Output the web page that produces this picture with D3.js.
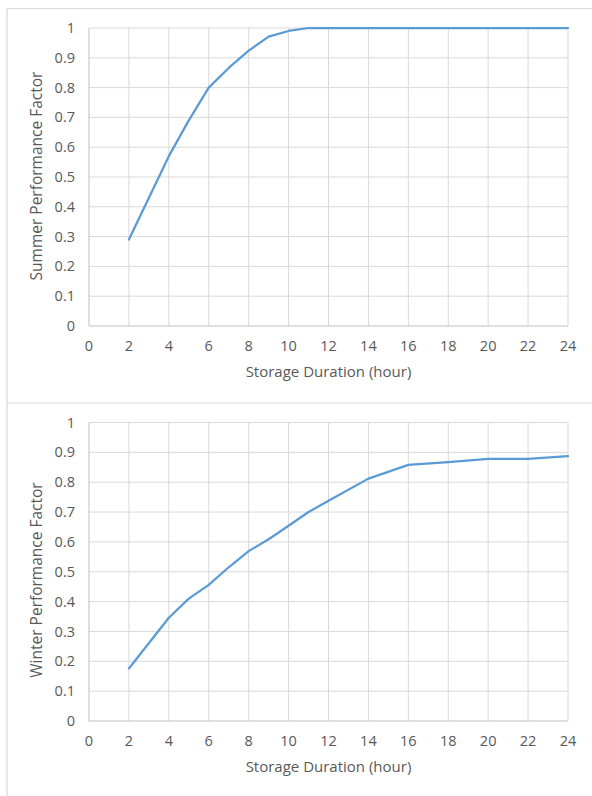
<!DOCTYPE html>
<html><head><meta charset="utf-8">
<script src="https://cdn.jsdelivr.net/npm/d3@7"></script>
<style>body{margin:0;background:#fff}svg{display:block}text{font-family:"Open Sans",sans-serif;fill:#595959}</style>
</head><body>
<script>
const hours = [2,4,5,6,7,8,9,10,11,12,14,16,18,20,22,24];
const summer = [0.29,0.57,0.69,0.80,0.866,0.924,0.971,0.99,1,1,1,1,1,1,1,1];
const winter = [0.176,0.346,0.41,0.456,0.515,0.569,0.609,0.654,0.70,0.738,0.812,0.858,0.867,0.878,0.878,0.887];
const xTicks = [0,2,4,6,8,10,12,14,16,18,20,22,24];
const yTicks = [0,0.1,0.2,0.3,0.4,0.5,0.6,0.7,0.8,0.9,1];
const xTitle = "Storage Duration (hour)";
const panels = [
  {title:"Summer Performance Factor", values:summer, top:8.5, bottom:403, plotTop:28, plotBottom:326, titleY:176},
  {title:"Winter Performance Factor", values:winter, top:403, bottom:800, plotTop:422.5, plotBottom:721, titleY:580}
];
const W=592,H=796;
const svg=d3.select("body").append("svg").attr("width",W).attr("height",H);
const x=d3.scaleLinear().domain([0,24]).range([89,568]);
panels.forEach(p=>{
  const g=svg.append("g");
  g.append("line").attr("x1",7).attr("x2",W).attr("y1",p.top).attr("y2",p.top).attr("stroke","#d9d9d9").attr("stroke-width",1.2);
  g.append("line").attr("x1",7).attr("x2",7).attr("y1",p.top).attr("y2",p.bottom).attr("stroke","#d9d9d9").attr("stroke-width",1.2);
  const y=d3.scaleLinear().domain([0,1]).range([p.plotBottom,p.plotTop]);
  g.append("g").selectAll("line").data(yTicks.slice(1)).join("line")
    .attr("x1",x(0)).attr("x2",x(24)).attr("y1",d=>y(d)).attr("y2",d=>y(d))
    .attr("stroke","#d9d9d9").attr("stroke-width",1);
  g.append("g").selectAll("line").data(xTicks.slice(1)).join("line")
    .attr("x1",d=>x(d)).attr("x2",d=>x(d)).attr("y1",y(0)).attr("y2",y(1))
    .attr("stroke","#d9d9d9").attr("stroke-width",1);
  g.append("line").attr("x1",x(0)).attr("x2",x(24)).attr("y1",y(0)).attr("y2",y(0)).attr("stroke","#bfbfbf").attr("stroke-width",1);
  g.append("line").attr("x1",x(0)).attr("x2",x(0)).attr("y1",y(0)).attr("y2",y(1)).attr("stroke","#bfbfbf").attr("stroke-width",1);
  g.append("g").selectAll("text").data(yTicks).join("text")
    .attr("x",75).attr("y",d=>y(d)).attr("dy","0.35em").attr("text-anchor","end")
    .attr("font-size",14.5).text(d=>d3.format("~g")(d));
  g.append("g").selectAll("text").data(xTicks).join("text")
    .attr("x",d=>x(d)).attr("y",y(0)+20).attr("dy","0.35em").attr("text-anchor","middle")
    .attr("font-size",14.5).text(d=>d);
  g.append("text").attr("x",(x(0)+x(24))/2).attr("y",y(0)+46).attr("dy","0.35em")
    .attr("text-anchor","middle").attr("font-size",15).text(xTitle);
  g.append("text").attr("transform",`translate(37,${p.titleY}) rotate(-90)`).attr("dy","0.35em")
    .attr("text-anchor","middle").attr("font-size",15.5).text(p.title);
  const data=hours.map((h,i)=>[h,p.values[i]]);
  g.append("path").datum(data).attr("fill","none").attr("stroke","#5b9bd5").attr("stroke-width",2.25)
    .attr("stroke-linejoin","round").attr("stroke-linecap","round")
    .attr("d",d3.line().x(d=>x(d[0])).y(d=>y(d[1])));
});
</script>
</body></html>
